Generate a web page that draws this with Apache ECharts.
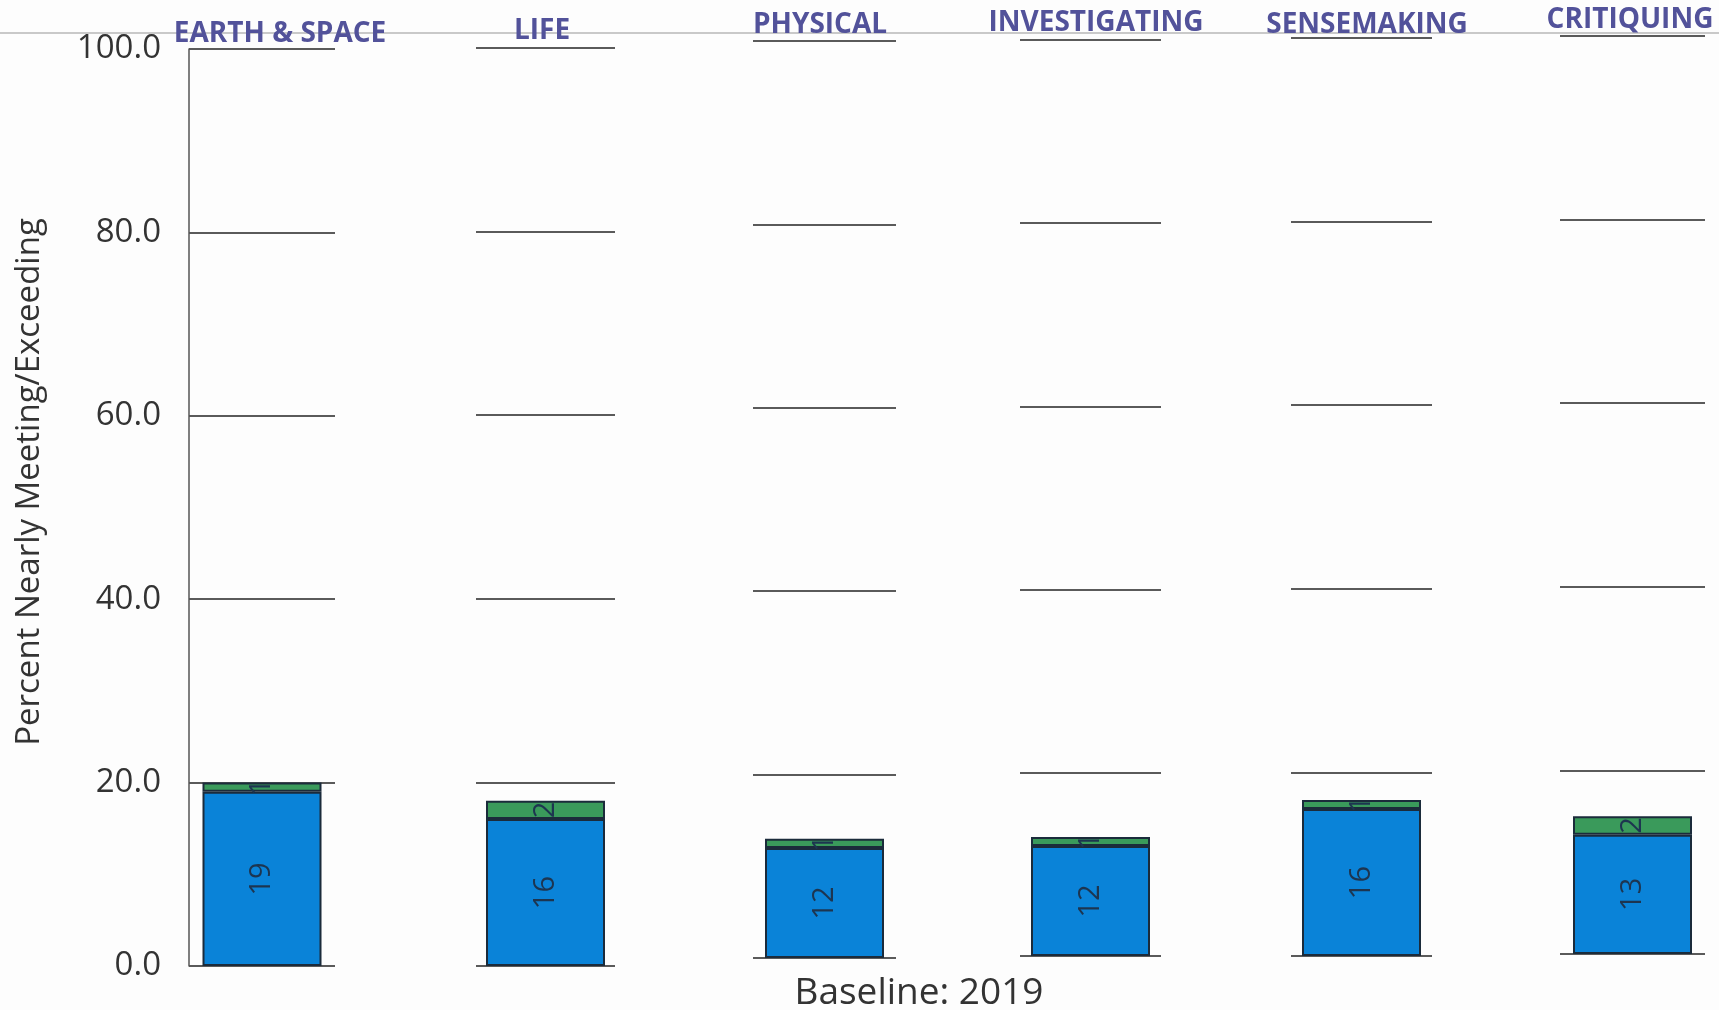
<!DOCTYPE html>
<html>
<head>
<meta charset="utf-8">
<script src="https://cdn.jsdelivr.net/npm/echarts@6/dist/echarts.min.js"></script>
<style>
html,body{margin:0;padding:0;background:#fdfdfd;}
#chart{width:1719px;height:1010px;}
</style>
</head>
<body>
<div id="chart"></div>
<script>
const panels = ['EARTH & SPACE', 'LIFE', 'PHYSICAL', 'INVESTIGATING', 'SENSEMAKING', 'CRITIQUING'];
const meetingExceeding = [19, 16, 12, 12, 16, 13];
const nearlyMeeting = [1, 2, 1, 1, 1, 2];
const yTicks = [0, 20, 40, 60, 80, 100];
const yAxisTitle = 'Percent Nearly Meeting/Exceeding';
const xAxisTitle = 'Baseline: 2019';

// layout of each small panel (pixels)
const layout = [
  {l: 189, r: 335, t: 49, b: 966},
  {l: 476, r: 615, t: 48, b: 966},
  {l: 753, r: 896, t: 41, b: 958},
  {l: 1020, r: 1161, t: 40, b: 956},
  {l: 1291, r: 1432, t: 38, b: 956},
  {l: 1560, r: 1705, t: 36, b: 954}
];
const titlePos = [
  {x: 275, y: 33}, {x: 537, y: 30}, {x: 815, y: 24},
  {x: 1091, y: 22}, {x: 1362, y: 24}, {x: 1625, y: 19}
];

const W = 1719, H = 1010;
const grids = [], xAxes = [], yAxes = [], series = [], titles = [];

panels.forEach((p, i) => {
  const g = layout[i];
  grids.push({left: g.l, top: g.t, width: g.r - g.l, height: g.b - g.t, containLabel: false});
  xAxes.push({
    type: 'category', gridIndex: i, data: [p],
    axisLine: {show: false}, axisTick: {show: false}, axisLabel: {show: false}
  });
  yAxes.push({
    type: 'value', gridIndex: i, min: yTicks[0], max: yTicks[yTicks.length - 1], interval: 20,
    axisLine: {show: i === 0, lineStyle: {color: '#555', width: 1.5}},
    axisTick: {show: false},
    axisLabel: {
      show: i === 0, formatter: v => v.toFixed(1), margin: 28,
      fontSize: 33, color: '#333', fontFamily: 'Open Sans'
    },
    splitLine: {show: true, lineStyle: {color: '#5a5a5a', width: 2}}
  });
  const lbl = {
    show: true, position: 'inside', rotate: 90,
    fontSize: 29, color: '#1d3550', fontFamily: 'Open Sans'
  };
  series.push({
    type: 'bar', name: 'Meeting/Exceeding', xAxisIndex: i, yAxisIndex: i, stack: 's' + i,
    data: [meetingExceeding[i]], barWidth: 119,
    itemStyle: {color: '#0a83d8', borderColor: '#1b2b3b', borderWidth: 2},
    label: lbl
  });
  series.push({
    type: 'bar', name: 'Nearly Meeting', xAxisIndex: i, yAxisIndex: i, stack: 's' + i,
    data: [nearlyMeeting[i]], barWidth: 119,
    itemStyle: {color: '#3a9a5b', borderColor: '#1b2b3b', borderWidth: 2},
    label: Object.assign({}, lbl, {overflow: 'none'})
  });
  titles.push({
    text: p, left: titlePos[i].x, top: titlePos[i].y - 18, textAlign: 'center',
    textStyle: {
      fontSize: 28, fontWeight: 'bold', color: '#52529a',
      fontFamily: "'Open Sans', sans-serif"
    }
  });
});

const chart = echarts.init(document.getElementById('chart'), null, {renderer: 'canvas'});
chart.setOption({
  backgroundColor: '#fdfdfd',
  animation: false,
  title: titles,
  grid: grids,
  xAxis: xAxes,
  yAxis: yAxes,
  series: series,
  graphic: [
    {type: 'line', shape: {x1: 0, y1: 33, x2: W, y2: 33}, z: -1,
     style: {stroke: '#c9c9c9', lineWidth: 2}},
    {type: 'text', x: 30, y: 482, rotation: Math.PI / 2, z: 10,
     style: {text: yAxisTitle, fontSize: 33, fill: '#333', fontFamily: 'Open Sans',
             align: 'center', verticalAlign: 'middle'}},
    {type: 'text', x: 919, y: 993, z: 10,
     style: {text: xAxisTitle, fontSize: 37, fill: '#333', fontFamily: 'Open Sans',
             align: 'center', verticalAlign: 'middle'}}
  ]
});
</script>
</body>
</html>
